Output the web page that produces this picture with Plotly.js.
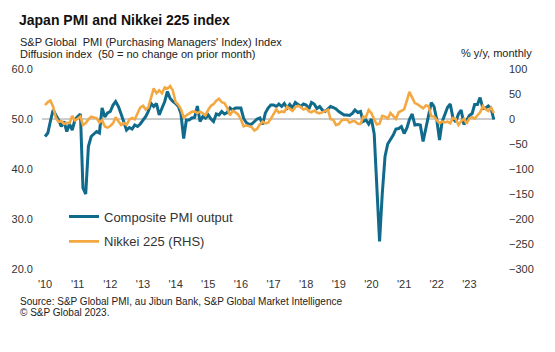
<!DOCTYPE html>
<html>
<head>
<meta charset="utf-8">
<script src="https://cdn.plot.ly/plotly-3.0.1.min.js"></script>
<style>html,body{margin:0;padding:0;background:#fff}#chart{width:555px;height:352px}</style>
</head>
<body>
<div id="chart"></div>
<script>
// Monthly series, Jan 2010 onward
const startYear = 2010;
const compositePMI = [
  46.5, 47.2, 49.5, 51.8, 50.8, 49.8, 48.5, 49.5, 47.5, 49.0, 47.8, 49.8,
  50.5, 51.0, 36.2, 35.0, 44.5, 46.5, 47.0, 47.5, 47.2, 52.2, 50.4, 51.2,
  51.5, 52.8, 53.5, 52.5, 51.0, 49.5, 47.8, 48.3, 48.0, 48.8, 48.5, 49.0,
  49.8, 50.5, 51.5, 53.1, 52.5, 53.1, 50.8, 52.2, 53.5, 55.5, 54.1, 53.5,
  53.1, 52.5, 51.1, 46.1, 49.8, 49.8, 50.2, 50.3, 52.6, 49.5, 50.5, 50.2,
  50.8, 50.0, 49.5, 51.0, 50.8, 51.5, 51.0, 51.3, 52.2, 51.8, 52.2, 52.2,
  52.2, 50.1, 49.3, 48.9, 49.0, 49.5, 50.0, 50.2, 48.9, 51.2, 52.2, 52.8,
  52.8, 52.5, 53.0, 52.5, 53.1, 52.2, 52.9, 52.2, 53.3, 52.9, 52.5, 53.0,
  52.8, 52.0, 53.3, 53.0, 52.1, 52.5, 51.8, 51.5, 52.1, 52.5, 52.3, 52.0,
  51.5, 51.1, 50.8, 50.8, 50.7, 51.1, 51.8, 51.3, 51.5, 49.5, 49.8, 49.0,
  50.0, 47.0, 36.2, 25.5, 35.0, 42.5, 45.0, 45.8, 46.8, 48.0, 48.1, 48.5,
  47.1, 48.2, 49.9, 51.0, 48.8, 48.9, 48.8, 45.5, 47.9, 50.7, 53.3, 52.5,
  49.9, 45.8, 49.4, 51.1, 52.3, 53.0, 50.2, 49.4, 51.0, 51.8, 48.9, 49.7,
  50.7, 51.1, 52.9, 52.9, 54.3, 52.1, 52.2, 52.6, 52.1, 49.9
];
const nikkeiYoY = [
  27.6, 33.8, 36.7, 25.2, 2.6, -5.8, -4.0, -10.0, -7.5, -8.3, 6.3, -3.0,
  0.4, 4.9, -12.0, -8.0, -0.8, 4.6, 3.1, 1.5, -7.1, -2.3, -15.1, -17.3,
  -14.0, -8.5, 3.4, -3.3, -11.9, -8.2, -11.6, -1.3, 2.0, -0.7, 12.0, 22.9,
  26.5, 18.9, 23.0, 45.6, 61.3, 51.8, 57.2, 51.5, 63.0, 60.5, 65.8, 56.7,
  33.9, 28.4, 19.6, 3.2, 6.2, 10.9, 14.3, 15.2, 11.9, 14.6, 11.5, 7.1,
  18.5, 26.7, 29.5, 36.5, 40.5, 33.5, 31.8, 22.5, 7.5, 16.3, 13.1, 9.1,
  -0.9, -14.7, -12.7, -14.6, -16.2, -23.0, -19.5, -10.6, -5.4, -8.7, -7.3, 0.4,
  8.7, 19.3, 12.8, 15.2, 14.0, 24.6, 20.3, 16.3, 23.7, 26.3, 24.1, 19.1,
  21.3, 15.4, 13.5, 17.0, 13.0, 11.3, 13.2, 16.4, 18.5, -0.4, -1.6, -12.1,
  -10.1, -3.1, -1.2, -0.9, -7.2, -4.6, -4.6, -9.5, -9.8, 4.6, 4.2, 18.2,
  11.7, -1.1, -10.8, -9.3, 6.2, 4.8, 0.9, 11.8, 6.6, 0.2, 13.5, 16.0,
  19.2, 37.0, 54.2, 42.7, 31.9, 29.2, 25.7, 21.4, 27.0, 25.7, 5.3, 4.9,
  -2.4, -8.4, -4.7, -6.8, -5.5, -8.3, 1.9, 0.0, -11.9, -4.5, 0.5, -9.4,
  1.2, 3.5, 0.8, 7.5, 13.2, 25.7, 19.3, 16.1, 22.8, 11.9
];
const yearTickLabels = ["'10","'11","'12","'13","'14","'15","'16","'17","'18","'19","'20","'21","'22","'23"];
const leftTicks = [20, 30, 40, 50, 60];
const rightTicks = [-300, -250, -200, -150, -100, -50, 0, 50, 100];

function monthDate(i) {
  const y = startYear + Math.floor(i / 12);
  const m = (i % 12) + 1;
  return y + '-' + String(m).padStart(2, '0') + '-01';
}
const datesC = compositePMI.map((_, i) => monthDate(i));
const datesN = nikkeiYoY.map((_, i) => monthDate(i));
const tickVals = yearTickLabels.map((_, i) => (startYear + i) + '-01-01');

const FONT = 'Liberation Sans, Arial, sans-serif';
const L = 38, R = 502, T = 69, B = 269;
const px = x => (x - L) / (R - L);
const py = y => (B - y) / (B - T);

const traces = [
  {x: datesC, y: compositePMI, type: 'scatter', mode: 'lines', name: 'Composite PMI output',
   line: {color: '#0F6A8B', width: 3}, legendgroup: 'a', yaxis: 'y'},
  {x: datesN, y: nikkeiYoY, type: 'scatter', mode: 'lines', name: 'Nikkei 225 (RHS)',
   line: {color: '#F4A842', width: 2.6}, legendgroup: 'b', yaxis: 'y2'}
];

const layout = {
  width: 555, height: 352,
  margin: {l: L, r: 555 - R, t: T, b: 352 - B, pad: 0},
  paper_bgcolor: '#fff', plot_bgcolor: '#fff',
  font: {family: FONT, size: 11, color: '#333'},
  showlegend: true,
  legend: {x: px(64), y: py(201.5), xanchor: 'left', yanchor: 'top',
    font: {family: FONT, size: 13, color: '#333'}, bgcolor: 'rgba(0,0,0,0)',
    traceorder: 'grouped', tracegroupgap: 5},
  xaxis: {type: 'date', range: ['2009-10-14', '2024-01-01'], showgrid: false, zeroline: false,
    showline: false, tickvals: tickVals, ticktext: yearTickLabels, ticks: '',
    ticklabelstandoff: 7, tickfont: {family: FONT, size: 11, color: '#333'}},
  yaxis: {range: [20, 60], tickvals: leftTicks, tickformat: '.1f', showgrid: false, zeroline: false,
    showline: false, ticks: '', ticklabelstandoff: 4, tickfont: {family: FONT, size: 11, color: '#333'}},
  yaxis2: {range: [-300, 100], tickvals: rightTicks, overlaying: 'y', side: 'right', showgrid: false,
    zeroline: false, showline: false, ticks: '', ticklabelstandoff: 6, tickfont: {family: FONT, size: 11, color: '#333'}},
  shapes: [{type: 'line', xref: 'paper', yref: 'y', x0: px(42), x1: px(495), y0: 50, y1: 50,
    line: {color: '#9a9a9a', width: 1}, layer: 'below'}],
  annotations: [
    {text: '<b>Japan PMI and Nikkei 225 index</b>', x: px(17), y: py(20), xref: 'paper', yref: 'paper',
     xanchor: 'left', yanchor: 'middle', showarrow: false, font: {family: FONT, size: 14, color: '#111'}},
    {text: 'S&P Global  PMI (Purchasing Managers\' Index) Index', x: px(18), y: py(41.5), xref: 'paper', yref: 'paper',
     xanchor: 'left', yanchor: 'middle', showarrow: false, font: {family: FONT, size: 11, color: '#222'}},
    {text: 'Diffusion index  (50 = no change on prior month)', x: px(18), y: py(53.5), xref: 'paper', yref: 'paper',
     xanchor: 'left', yanchor: 'middle', showarrow: false, font: {family: FONT, size: 11, color: '#222'}},
    {text: '% y/y, monthly', x: px(534), y: py(53), xref: 'paper', yref: 'paper',
     xanchor: 'right', yanchor: 'middle', showarrow: false, font: {family: FONT, size: 11, color: '#222'}},
    {text: 'Source: S&P Global PMI, au Jibun Bank, S&P Global Market Intelligence', x: px(18), y: py(301.5), xref: 'paper', yref: 'paper',
     xanchor: 'left', yanchor: 'middle', showarrow: false, font: {family: FONT, size: 10, color: '#222'}},
    {text: '© S&P Global 2023.', x: px(18), y: py(312.5), xref: 'paper', yref: 'paper',
     xanchor: 'left', yanchor: 'middle', showarrow: false, font: {family: FONT, size: 10, color: '#222'}}
  ]
};

Plotly.newPlot('chart', traces, layout, {displayModeBar: false, staticPlot: true});
</script>
</body>
</html>
